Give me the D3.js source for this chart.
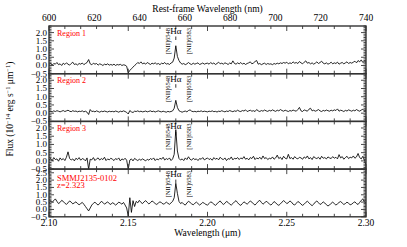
<!DOCTYPE html>
<html>
<head>
<meta charset="utf-8">
<script src="https://cdn.jsdelivr.net/npm/d3@7/dist/d3.min.js"></script>
<style>
    body { margin: 0; background: #fff; }
    text { font-family: "Liberation Serif", "Times New Roman", serif; fill: #000; }
</style>
</head>
<body>
<svg id="chart" width="407" height="247"></svg>
<script>
// observed wavelength grid (micron)
const waveStart = 2.10;
const waveStep = 0.001;

const region1 = [
    0.05,0.15,0.02,0.12,0.08,0.18,0.05,0.10,0.00,0.14,0.06,0.16,0.08,0.02,0.12,0.20,0.06,0.10,0.03,0.12,
    0.08,0.15,0.05,0.12,0.18,0.36,0.10,0.04,0.14,0.08,0.12,0.02,0.10,0.06,0.00,0.08,0.04,0.10,0.02,0.06,
    0.02,0.08,0.00,0.06,0.03,0.07,0.00,0.04,0.02,-0.05,-0.45,-0.30,-0.20,-0.10,0.00,0.08,0.18,0.12,0.22,0.10,
    0.15,0.08,0.18,0.12,0.06,0.14,0.10,0.16,0.08,0.12,0.05,0.14,0.10,0.18,0.08,0.12,0.06,0.15,0.20,0.45,
    1.20,0.55,0.30,0.15,0.08,0.12,0.05,0.10,0.18,0.10,0.06,0.14,0.08,0.12,0.16,0.06,0.10,0.15,0.08,0.12,
    0.14,0.08,0.18,0.10,0.15,0.06,0.12,0.20,0.10,0.14,0.08,0.16,0.12,0.06,0.15,0.10,0.28,0.12,0.08,0.16,
    0.10,0.18,0.08,0.14,0.06,0.12,0.16,0.22,0.10,0.15,0.24,0.30,0.08,0.12,0.05,0.10,0.14,0.06,0.12,0.08,
    0.10,0.05,0.12,0.08,0.14,0.10,0.16,0.12,0.18,0.14,0.20,0.10,0.16,0.12,0.22,0.14,0.18,0.12,0.24,0.16,
    0.10,0.20,0.28,0.14,0.18,0.10,0.16,0.08,0.14,0.22,0.12,0.18,0.26,0.14,0.10,0.16,0.08,0.12,0.20,0.10,
    0.16,0.12,0.20,0.08,0.14,0.18,0.10,0.16,0.22,0.12,0.18,0.14,0.20,0.26,0.16,0.30,0.22,0.34,0.18,0.26,0.20
];

const region2 = [
    0.10,0.12,0.08,0.14,0.10,0.15,0.12,0.08,0.12,0.16,0.10,0.14,0.18,0.12,0.09,0.15,0.11,0.13,0.08,0.12,
    0.10,0.14,0.08,0.12,0.06,-0.08,0.22,0.10,0.12,0.08,0.14,0.10,0.06,0.12,0.09,0.13,0.10,0.07,0.12,0.09,
    0.11,0.08,0.13,0.10,0.06,0.12,0.09,0.14,0.10,0.05,-0.05,0.16,0.08,0.04,0.12,0.10,0.14,0.09,0.12,0.08,
    0.10,0.13,0.08,0.11,0.14,0.09,0.12,0.07,0.11,0.14,0.10,0.08,0.12,0.09,0.06,0.11,0.08,0.10,0.14,0.30,
    0.78,0.35,0.15,0.10,0.06,0.10,0.13,0.08,0.16,0.20,0.12,0.09,0.11,0.08,0.12,0.10,0.14,0.09,0.12,0.10,
    0.08,0.12,0.10,0.14,0.09,0.11,0.07,0.12,0.10,0.15,0.11,0.08,0.13,0.10,0.16,0.12,0.09,0.14,0.11,0.18,
    0.12,0.10,0.16,0.13,0.20,0.10,0.14,0.18,0.12,0.15,0.10,0.22,0.14,0.10,0.16,0.12,0.19,0.14,0.11,0.17,
    0.13,0.20,0.15,0.11,0.18,0.14,0.22,0.16,0.12,0.18,0.14,0.10,0.16,0.13,0.19,0.15,0.12,0.22,0.35,0.14,
    0.10,0.20,0.16,0.12,0.24,0.30,0.14,0.18,0.12,0.16,0.22,0.14,0.10,0.17,0.13,0.19,0.15,0.12,0.18,0.14,
    0.20,0.16,0.26,0.12,0.18,0.15,0.10,0.17,0.13,0.20,0.16,0.12,0.18,0.14,0.22,0.16,0.12,0.19,0.24,0.14,0.18
];

const region3 = [
    0.05,0.15,0.00,0.20,0.08,0.12,-0.02,0.18,0.06,0.14,0.02,0.22,0.55,0.15,0.05,0.12,0.00,0.16,0.08,0.20,
    0.04,0.14,0.10,0.00,0.18,-0.50,0.10,0.06,0.20,0.02,0.12,0.18,0.05,0.14,0.08,0.22,0.02,0.12,0.06,0.16,
    0.10,0.02,0.14,0.08,0.18,0.00,0.12,0.06,0.16,0.04,-0.50,0.05,0.12,0.00,0.15,0.08,0.02,0.10,0.04,0.12,
    0.06,0.00,0.10,0.04,0.14,0.08,0.18,0.02,0.12,0.06,0.16,0.10,0.22,0.05,0.14,0.08,0.18,0.02,0.12,0.40,
    1.90,0.60,0.15,0.05,0.12,0.02,0.18,0.08,0.25,0.10,0.04,0.16,0.08,0.12,0.02,0.14,0.10,0.20,0.06,0.12,
    0.18,0.08,0.14,0.04,0.20,0.10,0.16,0.06,0.22,0.12,0.08,0.18,0.02,0.14,0.10,0.24,0.06,0.16,0.12,0.20,
    0.08,0.18,0.12,0.26,0.10,0.16,0.06,0.20,0.14,0.28,0.08,0.18,0.12,0.22,0.10,0.30,0.14,0.20,0.08,0.16,
    0.12,0.24,0.10,0.18,0.35,0.14,0.22,0.08,0.28,0.16,0.12,0.40,0.14,0.20,0.10,0.26,0.16,0.12,0.22,0.18,
    0.10,0.24,0.16,0.30,0.12,0.20,0.08,0.26,0.18,0.14,0.22,0.10,0.28,0.16,0.20,0.12,0.24,0.18,0.14,0.26,
    0.16,0.22,0.12,0.38,0.18,0.26,0.10,0.20,0.28,0.14,0.22,0.18,0.30,0.16,0.24,0.45,0.20,0.12,0.28,0.05,-0.25
];

const smmSpectrum = [
    0.45,0.55,0.50,0.60,0.72,0.55,0.40,0.48,0.62,0.55,0.42,0.35,0.45,0.58,0.50,0.38,0.45,0.52,0.40,0.32,
    0.40,0.48,0.35,0.20,0.05,-0.10,0.10,0.30,0.42,0.50,0.38,0.30,0.42,0.55,0.48,0.36,0.44,0.52,0.40,0.34,
    0.46,0.40,0.30,0.38,0.50,0.44,0.36,0.48,0.30,0.10,-0.45,0.80,-0.20,0.60,0.20,0.55,0.45,0.62,0.48,0.40,
    0.52,0.60,0.48,0.38,0.46,0.58,0.50,0.40,0.34,0.44,0.52,0.46,0.36,0.40,0.50,0.42,0.35,0.45,0.55,0.80,
    1.78,1.10,0.55,0.40,0.48,0.36,0.30,0.44,0.56,0.48,0.38,0.32,0.42,0.50,0.40,0.30,0.38,0.48,0.42,0.34,
    0.30,0.40,0.52,0.46,0.36,0.28,0.38,0.50,0.58,0.44,0.34,0.42,0.55,0.48,0.36,0.30,0.40,0.52,0.60,0.46,
    0.34,0.28,0.40,0.52,0.44,0.36,0.46,0.58,0.50,0.38,0.30,0.42,0.55,0.62,0.48,0.36,0.44,0.56,0.48,0.38,
    0.30,0.40,0.54,0.46,0.34,0.28,0.38,0.50,0.60,0.52,0.40,0.46,0.58,0.50,0.36,0.30,0.42,0.54,0.48,0.36,
    0.28,0.36,0.48,0.56,0.46,0.34,0.26,0.36,0.50,0.58,0.46,0.34,0.40,0.52,0.44,0.32,0.24,0.30,0.42,0.50,
    0.40,0.30,0.38,0.48,0.54,0.44,0.34,0.40,0.50,0.42,0.32,0.36,0.46,0.52,0.40,0.34,0.48,0.62,0.72,0.50,0.45
];

const panelSpectra = [region1, region2, region3, smmSpectrum];
const panelLabels = [["Region 1"], ["Region 2"], ["Region 3"], ["SMMJ2135-0102", "z=2.323"]];
const panelYMax = [2.4, 2.4, 2.4, 2.75];
const panelYTicks = [
    [-0.5, 0, 0.5, 1.0, 1.5, 2.0],
    [-0.5, 0, 0.5, 1.0, 1.5, 2.0],
    [-0.5, 0, 0.5, 1.0, 1.5, 2.0],
    [-0.5, 0, 0.5, 1.0, 1.5, 2.0, 2.5]
];
const waveTicks = [2.10, 2.15, 2.20, 2.25, 2.30];
const restTicks = [600, 620, 640, 660, 680, 700, 720, 740];
// emission line markers (observed micron)
const lineNames = ["[NII]6548", "[NII]6583"];
const lineWaves = [2.1752, 2.1880];
const haWave = 2.1800;

const margin = { top: 26, left: 49 };
const width = 317;
const panelH = 47.7;

const svg = d3.select("#chart");
const x = d3.scaleLinear().domain([2.10, 2.30]).range([margin.left, margin.left + width]);
const xRest = d3.scaleLinear().domain([600, 740]).range([margin.left, margin.left + width]);
const minorX = d3.range(2.10, 2.3001, 0.01);
const fmt1 = d3.format(".1f");

panelSpectra.forEach(function(spec, p) {
    const top = margin.top + p * panelH;
    const bottom = top + panelH;
    const y = d3.scaleLinear().domain([-0.5, panelYMax[p]]).range([bottom, top]);
    const g = svg.append("g");

    const clipId = "clip" + p;
    g.append("clipPath").attr("id", clipId)
        .append("rect").attr("x", margin.left).attr("y", top).attr("width", width).attr("height", panelH);

    const line = d3.line()
        .x((d, i) => x(waveStart + i * waveStep))
        .y(d => y(d));

    g.append("path")
        .datum(spec)
        .attr("clip-path", "url(#" + clipId + ")")
        .attr("fill", "none")
        .attr("stroke", "#000")
        .attr("stroke-width", 0.85)
        .attr("d", line);

    // x ticks, inward from top and bottom
    const tickG = g.append("g").attr("stroke", "#333").attr("stroke-width", 0.9);
    minorX.forEach(function(w) {
        const major = waveTicks.some(t => Math.abs(t - w) < 1e-6);
        const len = major ? 5 : 3;
        tickG.append("line").attr("x1", x(w)).attr("x2", x(w)).attr("y1", bottom).attr("y2", bottom - len);
        tickG.append("line").attr("x1", x(w)).attr("x2", x(w)).attr("y1", top).attr("y2", top + len);
    });

    // y ticks, left and right
    d3.range(-0.5, panelYMax[p] + 0.001, 0.1).forEach(function(v) {
        const major = Math.abs(v * 2 - Math.round(v * 2)) < 1e-6;
        const len = major ? 5 : 2.5;
        tickG.append("line").attr("x1", margin.left).attr("x2", margin.left + len).attr("y1", y(v)).attr("y2", y(v));
        tickG.append("line").attr("x1", margin.left + width).attr("x2", margin.left + width - len).attr("y1", y(v)).attr("y2", y(v));
    });

    g.selectAll(".ylab")
        .data(panelYTicks[p])
        .enter().append("text")
        .attr("x", margin.left - 2)
        .attr("y", d => y(d))
        .attr("dy", "0.33em")
        .attr("text-anchor", "end")
        .style("font-size", "9px")
        .text(d => fmt1(d));

    // frame
    g.append("rect")
        .attr("x", margin.left).attr("y", top)
        .attr("width", width).attr("height", panelH)
        .attr("fill", "none").attr("stroke", "#333").attr("stroke-width", 1.4);

    // red labels
    panelLabels[p].forEach(function(t, k) {
        g.append("text")
            .attr("x", margin.left + 8)
            .attr("y", top + (p === 3 ? 11.5 : 9.5) + k * 7)
            .style("font-size", p === 3 ? "8.5px" : "8px")
            .style("fill", "#ff0000")
            .text(t);
    });

    // line annotations
    lineNames.forEach(function(name, k) {
        g.append("text")
            .attr("transform", "translate(" + x(lineWaves[k]) + "," + (top + 2) + ") rotate(-90)")
            .attr("dy", "0.35em")
            .attr("text-anchor", "end")
            .style("font-size", "6.5px")
            .text(name);
    });
    g.append("text")
        .attr("x", x(haWave))
        .attr("y", top + 8)
        .attr("text-anchor", "middle")
        .style("font-size", "9px")
        .text("Hα");
    g.append("line")
        .attr("x1", x(haWave)).attr("x2", x(haWave))
        .attr("y1", top + 10.5).attr("y2", top + 14)
        .attr("stroke", "#000").attr("stroke-width", 0.8);

    if (p === 3) {
        g.selectAll(".xlab")
            .data(waveTicks)
            .enter().append("text")
            .attr("x", d => x(d))
            .attr("y", bottom + 9.5)
            .attr("text-anchor", "middle")
            .style("font-size", "9.5px")
            .text(d => d3.format(".2f")(d));
    }
});

// top rest-frame axis labels
svg.selectAll(".toplab")
    .data(restTicks)
    .enter().append("text")
    .attr("x", d => xRest(d))
    .attr("y", 20.5)
    .attr("text-anchor", "middle")
    .style("font-size", "9.5px")
    .text(d => d);

svg.append("text")
    .attr("x", margin.left + width / 2)
    .attr("y", 12)
    .attr("text-anchor", "middle")
    .style("font-size", "9.5px")
    .text("Rest-frame Wavelength (nm)");

svg.append("text")
    .attr("x", margin.left + width / 2)
    .attr("y", 236)
    .attr("text-anchor", "middle")
    .style("font-size", "9.5px")
    .text("Wavelength (μm)");

const ylab = svg.append("text")
    .attr("transform", "translate(13,109) rotate(-90)")
    .attr("text-anchor", "middle")
    .style("font-size", "9.5px");
ylab.append("tspan").text("Flux (10");
ylab.append("tspan").attr("dy", -3.5).style("font-size", "6.5px").text("−14");
ylab.append("tspan").attr("dy", 3.5).text(" erg s");
ylab.append("tspan").attr("dy", -3.5).style("font-size", "6.5px").text("−1");
ylab.append("tspan").attr("dy", 3.5).text(" μm");
ylab.append("tspan").attr("dy", -3.5).style("font-size", "6.5px").text("−1");
ylab.append("tspan").attr("dy", 3.5).text(")");
</script>
</body>
</html>
